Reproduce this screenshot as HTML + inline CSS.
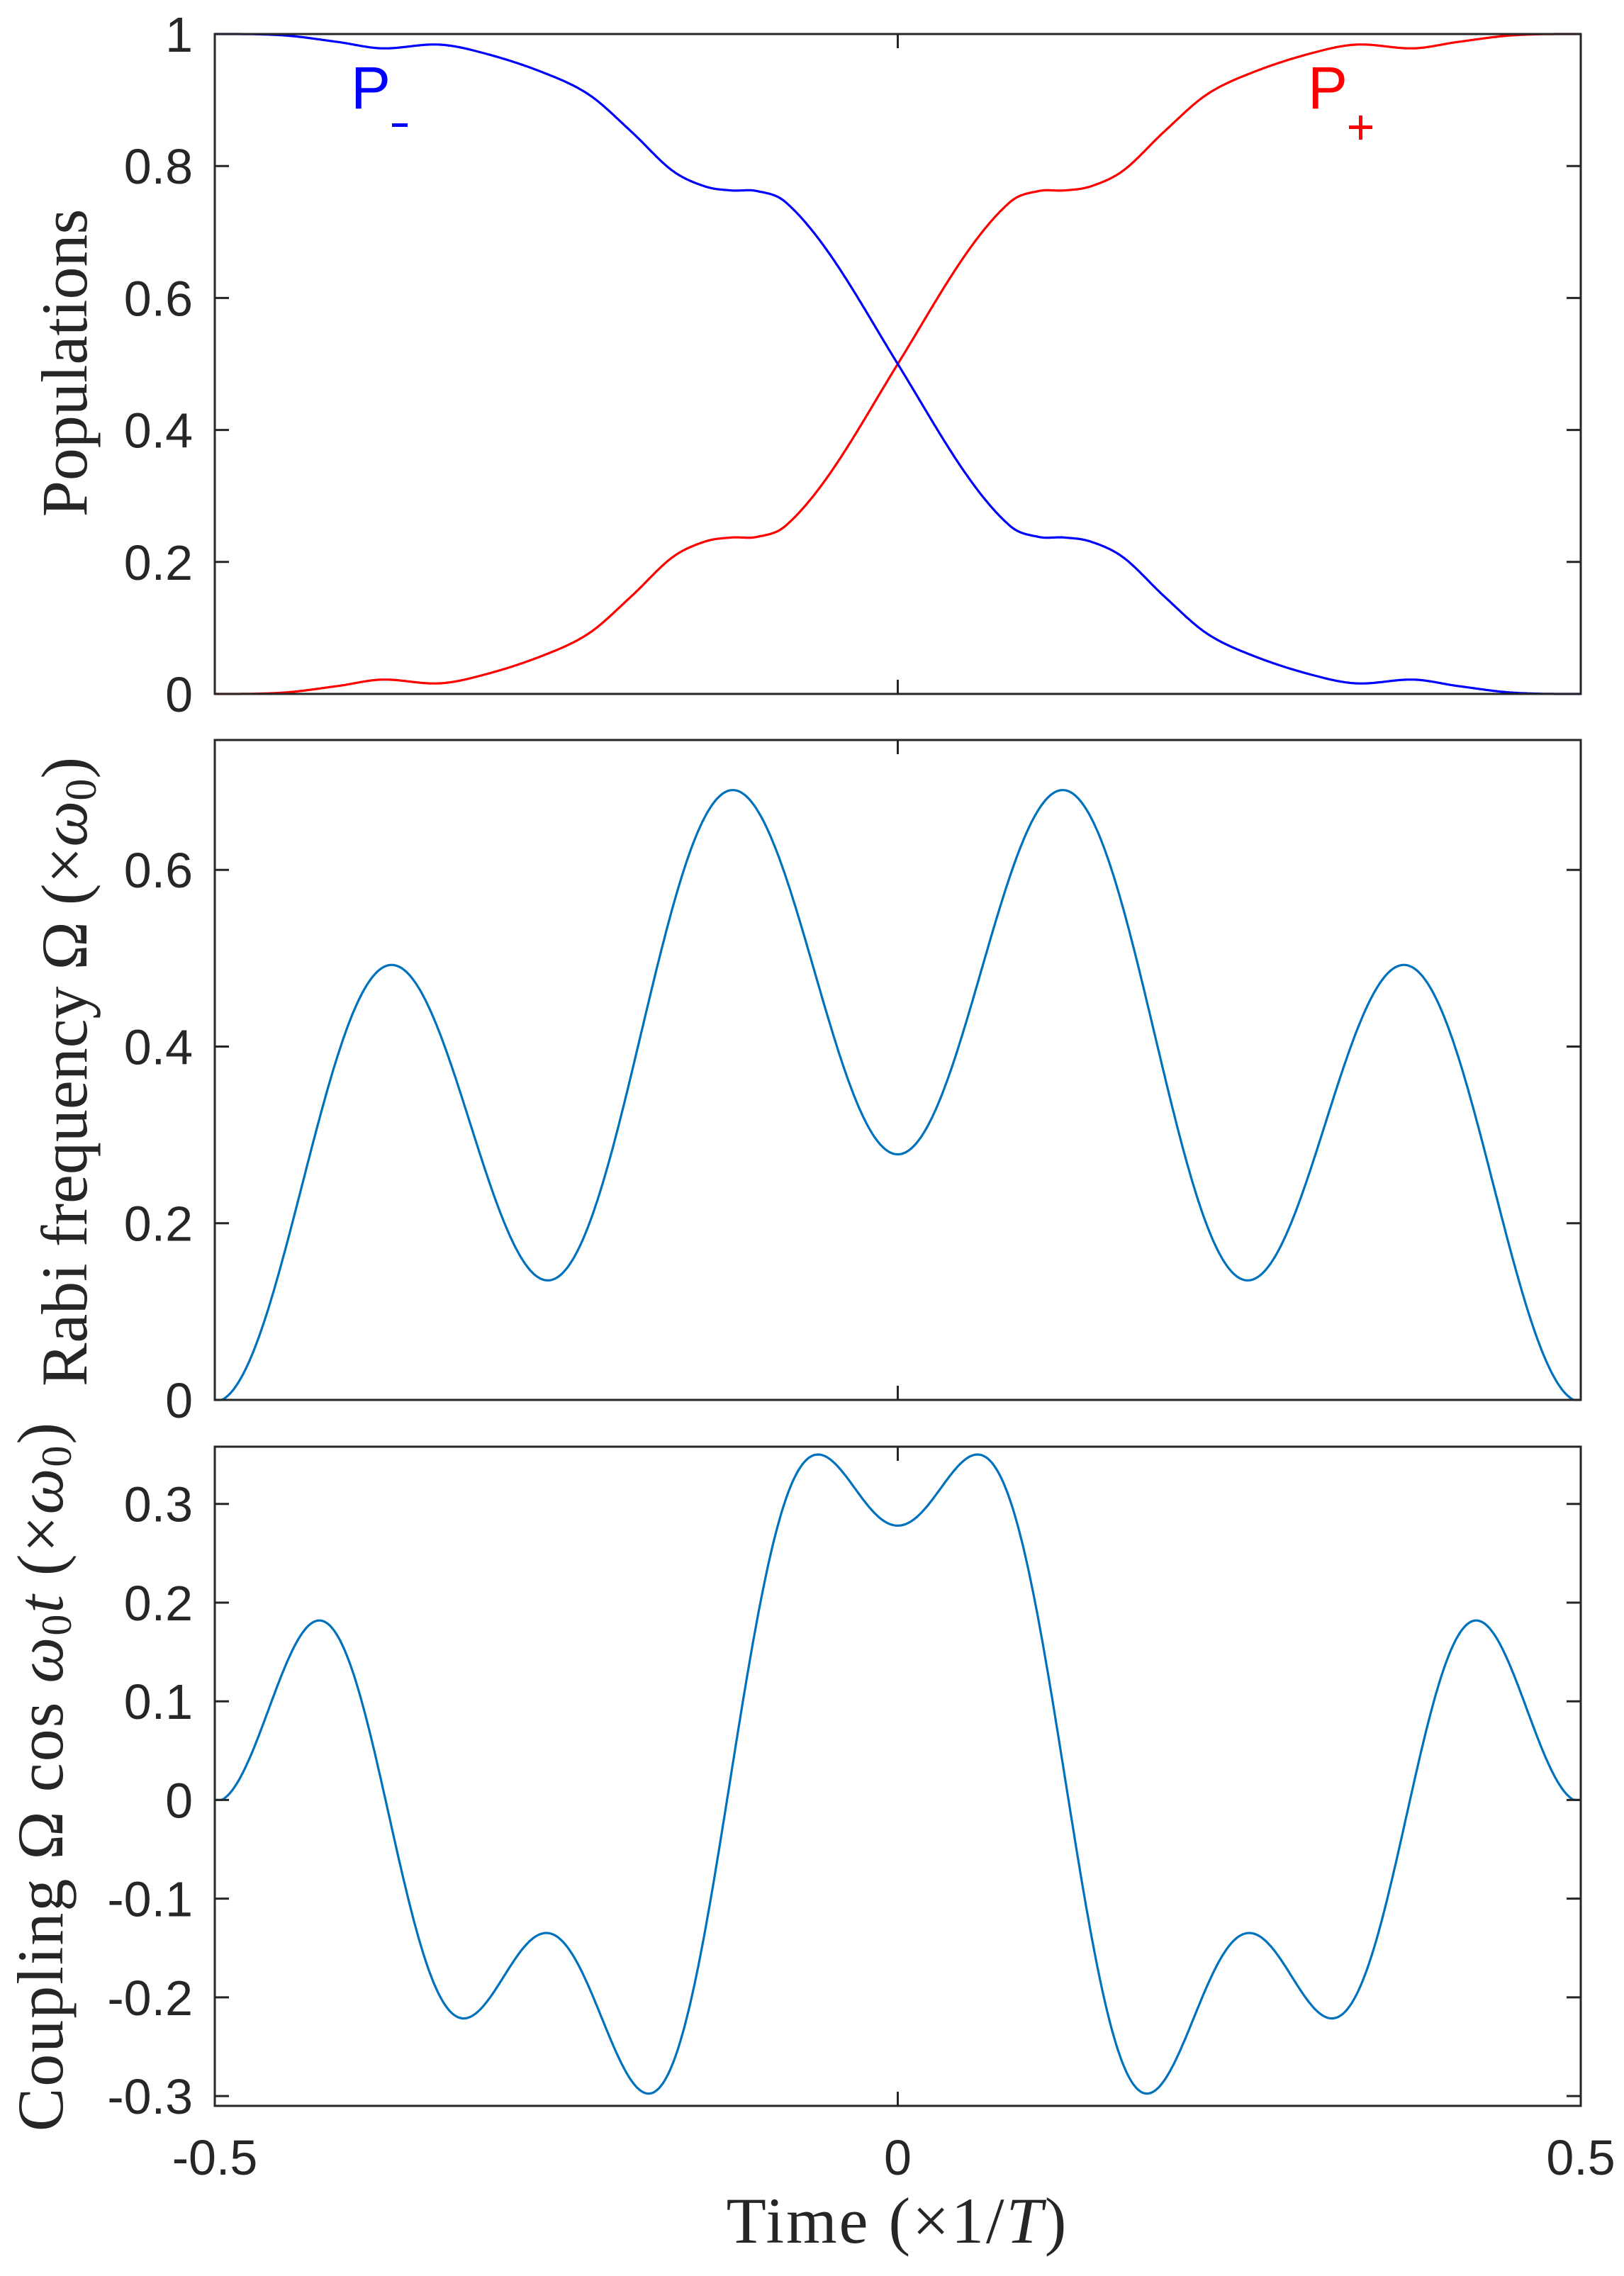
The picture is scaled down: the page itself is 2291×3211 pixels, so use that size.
<!DOCTYPE html>
<html><head><meta charset="utf-8">
<style>
html,body{margin:0;padding:0;background:#fff;}
svg{display:block;}
.tk{font-family:"Liberation Sans",sans-serif;font-size:70px;fill:#262626;}
.lb{font-family:"Liberation Serif",serif;font-size:92px;fill:#262626;}
</style></head>
<body>
<svg id="s" width="2291" height="3211" viewBox="0 0 2291 3211" xmlns="http://www.w3.org/2000/svg">
<rect width="2291" height="3211" fill="#fff"/>
<g id="curves" fill="none" stroke-width="3.2" stroke-linejoin="round"></g>
<g id="axes" fill="none" stroke="#262626" stroke-width="3"></g>
<g id="labels"></g>
<text class="lb" text-anchor="middle" transform="translate(122,512) rotate(-90)">Populations</text>
<text class="lb" text-anchor="middle" transform="translate(122,1512) rotate(-90)">Rabi frequency Ω (×<tspan font-style="italic">ω</tspan><tspan font-size="62" dy="13">0</tspan><tspan dy="-13">)</tspan></text>
<text class="lb" text-anchor="middle" font-size="88" letter-spacing="2" transform="translate(88,2506) rotate(-90)">Coupling Ω cos <tspan font-style="italic">ω</tspan><tspan font-size="60" dy="12">0</tspan><tspan dy="-12" font-style="italic">t</tspan> (×<tspan font-style="italic">ω</tspan><tspan font-size="60" dy="12">0</tspan><tspan dy="-12">)</tspan></text>
<text class="lb" text-anchor="middle" x="1266" y="3164" font-size="96" letter-spacing="3">Time (×1/<tspan font-style="italic">T</tspan>)</text>
<text x="495" y="153" font-family="Liberation Sans,sans-serif" font-size="84" fill="#0000ff">P</text>
<rect x="553" y="174" width="22" height="5" fill="#0000ff"/>
<text x="1845" y="153" font-family="Liberation Sans,sans-serif" font-size="84" fill="#ff0000">P</text>
<rect x="1903" y="177" width="33" height="5" fill="#ff0000"/>
<rect x="1917" y="163" width="5" height="34" fill="#ff0000"/>
</svg>
<script>
var NS="http://www.w3.org/2000/svg";
var L=303,R=2230;
function X(t){return L+(t+0.5)*(R-L);}
var panels=[
 {top:48,bot:979,lo:0,hi:1,ticks:[0,0.2,0.4,0.6,0.8,1],lab:["0","0.2","0.4","0.6","0.8","1"]},
 {top:1044,bot:1975,lo:0,hi:0.747,ticks:[0,0.2,0.4,0.6],lab:["0","0.2","0.4","0.6"]},
 {top:2041,bot:2971,lo:-0.31,hi:0.358,ticks:[-0.3,-0.2,-0.1,0,0.1,0.2,0.3],lab:["-0.3","-0.2","-0.1","0","0.1","0.2","0.3"]}
];
function Yf(p){return function(v){return p.bot-(v-p.lo)/(p.hi-p.lo)*(p.bot-p.top);};}
var ax=document.getElementById("axes"),lg=document.getElementById("labels"),cg=document.getElementById("curves");
function el(tag,attrs,parent,txt){var e=document.createElementNS(NS,tag);for(var k in attrs)e.setAttribute(k,attrs[k]);if(txt!==undefined)e.textContent=txt;parent.appendChild(e);return e;}
panels.forEach(function(p){
 var Y=Yf(p);
 el("rect",{x:L,y:p.top,width:R-L,height:p.bot-p.top},ax);
 var d="";
 p.ticks.forEach(function(v,i){var y=Y(v);d+="M"+L+" "+y+"h20M"+R+" "+y+"h-20";
  el("text",{"class":"tk",x:272,y:y+25,"text-anchor":"end"},lg,p.lab[i]);});
 [-0.5,0,0.5].forEach(function(t){var x=X(t);d+="M"+x+" "+p.bot+"v-20M"+x+" "+p.top+"v20";});
 el("path",{d:d},ax);
});
[["-0.5",-0.5],["0",0],["0.5",0.5]].forEach(function(a){el("text",{"class":"tk",x:X(a[1]),y:3068,"text-anchor":"middle"},lg,a[0]);});
var pts=[[-0.5,0],[-0.45,0.002],[-0.41,0.012],[-0.3775,0.0217],[-0.336,0.016],[-0.303,0.029],[-0.26,0.058],[-0.226,0.092],[-0.195,0.148],[-0.165,0.207],[-0.141,0.231],[-0.122,0.237],[-0.103,0.238],[-0.082,0.255],[-0.049,0.336]];
var all=pts.slice();all.push([0,0.5]);
for(var i=pts.length-1;i>=0;i--)all.push([-pts[i][0],1-pts[i][1]]);
var n=all.length,m=[];
for(var i=0;i<n;i++){if(i==0||i==n-1)m.push(0);else m.push((all[i+1][1]-all[i-1][1])/(all[i+1][0]-all[i-1][0]));}
function Pp(t){for(var i=0;i<n-1;i++){if(t<=all[i+1][0]){var h=all[i+1][0]-all[i][0],s=(t-all[i][0])/h;var h00=2*s*s*s-3*s*s+1,h10=s*s*s-2*s*s+s,h01=-2*s*s*s+3*s*s,h11=s*s*s-s*s;return h00*all[i][1]+h10*h*m[i]+h01*all[i+1][1]+h11*h*m[i+1];}}return 1;}
function Om(t){return 0.364+0.14*Math.cos(2*Math.PI*t)-0.226*Math.cos(8*Math.PI*t);}
function path(f,p,col){var Y=Yf(p),d="";for(var k=0;k<=1000;k++){var t=-0.5+k/1000;var v=f(t);d+=(k?"L":"M")+X(t).toFixed(1)+" "+Y(v).toFixed(1);}el("path",{d:d,stroke:col},cg);}
path(function(t){return Math.max(0,Math.min(1,Pp(t)));},panels[0],"#ff0000");
path(function(t){return Math.max(0,Math.min(1,1-Pp(t)));},panels[0],"#0000ff");
path(function(t){return Math.max(0,Om(t));},panels[1],"#0072bd");
path(function(t){return Math.max(0,Om(t))*Math.cos(4*Math.PI*t);},panels[2],"#0072bd");
</script>
</body></html>
